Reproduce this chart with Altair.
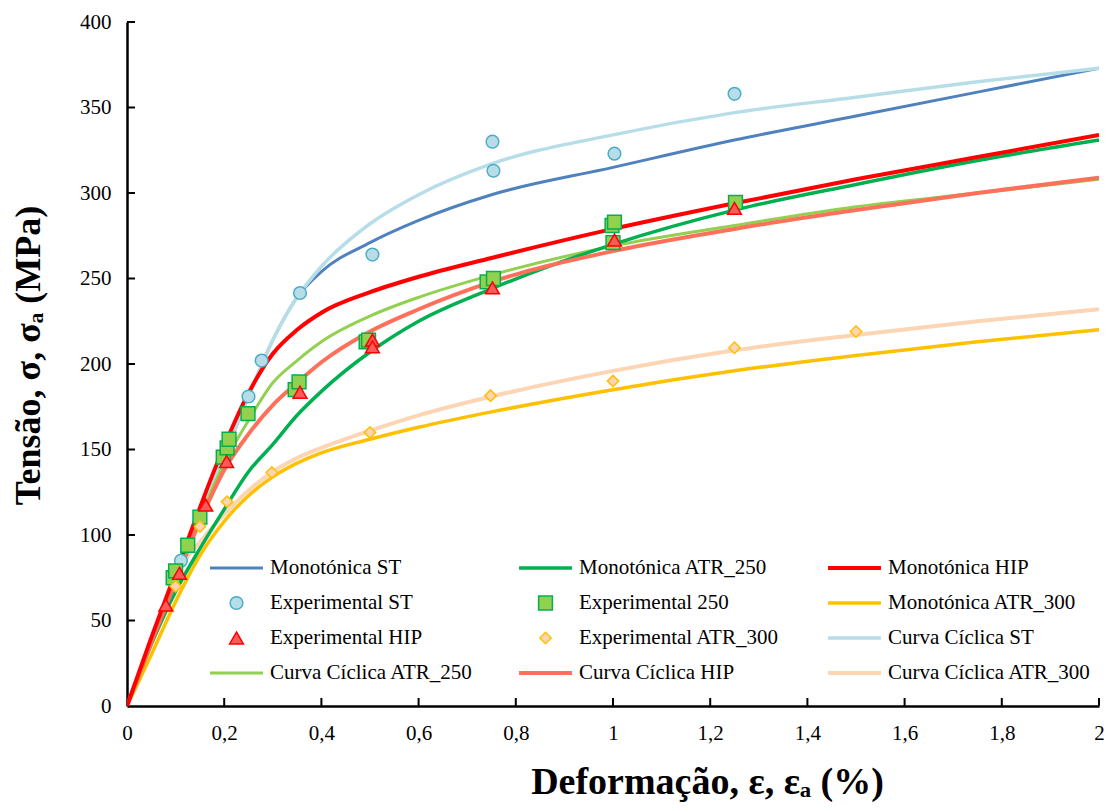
import altair as alt
import pandas as pd

# ---------------- data ----------------
X_GRID = [0, 0.05, 0.1, 0.15, 0.2, 0.25, 0.3, 0.35, 0.4, 0.5, 0.6, 0.75, 1.0, 1.25, 1.5, 1.75, 2.0]
MONO_ST = [0, 37, 75, 110, 146, 181, 214, 239, 254, 271, 284, 299, 315, 331, 345, 359, 373]
MONO_250 = [0, 36, 67, 92, 115, 137, 153, 170, 184, 207, 225, 244, 270, 290, 305, 319, 331]
MONO_HIP = [0, 40, 78, 116, 152, 183, 206, 220, 230, 242, 251, 262, 279, 294, 308, 321, 334]
MONO_300 = [0, 30, 61, 88, 108, 123, 134, 142, 148, 156, 163, 172, 185, 196, 205, 213, 220]
CYC_ST = [0, 37, 75, 110, 146, 181, 214, 239, 257, 282, 299, 317, 334, 347, 356, 365, 373]
CYC_250 = [0, 37, 74, 110, 142, 167, 189, 202, 213, 228, 239, 252, 269, 281, 292, 300, 308]
CYC_HIP = [0, 37, 73, 108, 138, 159, 176, 189, 201, 219, 232, 248, 266, 279, 290, 300, 309]
X_CYC_300 = [0.1, 0.15, 0.2, 0.25, 0.3, 0.35, 0.4, 0.5, 0.6, 0.75, 1.0, 1.25, 1.5, 1.75, 2.0]
CYC_300 = [79, 96, 112, 126, 137, 145, 151, 161, 170, 181, 196, 208, 217, 225, 232]

EXP_ST_X = [0.111, 0.25, 0.277, 0.356, 0.505, 0.752, 0.754, 1.003, 1.25]
EXP_ST_Y = [85, 181, 202, 241.5, 264, 330, 313, 323, 358]
EXP_250_X = [0.095, 0.1, 0.125, 0.15, 0.198, 0.206, 0.21, 0.249, 0.346, 0.354, 0.492, 0.497,
             0.741, 0.754, 0.998, 1.003, 1.0, 1.252]
EXP_250_Y = [75, 79, 94, 110.5, 145.5, 151, 156, 171, 185, 189.5, 213, 214,
             248, 250, 281, 283, 271, 294.5]
EXP_HIP_X = [0.08, 0.108, 0.162, 0.205, 0.356, 0.505, 0.505, 0.752, 1.003, 1.25]
EXP_HIP_Y = [59, 77.6, 117.5, 143, 183.5, 214, 210, 244.5, 272.5, 291]
EXP_300_X = [0.1, 0.15, 0.206, 0.298, 0.5, 0.748, 1.0, 1.25, 1.5]
EXP_300_Y = [70, 105, 119.5, 136.5, 160, 181.5, 190, 209.5, 219]

X_TICKS = [0.2, 0.4, 0.6, 0.8, 1.0, 1.2, 1.4, 1.6, 1.8, 2.0]
Y_TICKS = [50, 100, 150, 200, 250, 300, 350, 400]

# legend entries, listed column by column (4 rows x 3 columns)
LEGEND = ["Monotónica ST", "Experimental ST", "Experimental HIP", "Curva Cíclica ATR_250",
          "Monotónica ATR_250", "Experimental 250", "Experimental ATR_300", "Curva Cíclica HIP",
          "Monotónica HIP", "Monotónica ATR_300", "Curva Cíclica ST", "Curva Cíclica ATR_300"]
STROKES = ["#4F81BD", "#4BACC6", "#FF0000", "#92D050",
           "#00B050", "#00B050", "#FFC000", "#FF705A",
           "#FF0000", "#FFC000", "#B7DEE8", "#FCD5B4"]
FILLS = ["#FFFFFF", "#B7DEE8", "#FF5A5A", "#FFFFFF",
         "#FFFFFF", "#92D050", "#FCD5B4", "#FFFFFF",
         "#FFFFFF", "#FFFFFF", "#FFFFFF", "#FFFFFF"]
SHAPES = ["stroke", "circle", "triangle-up", "stroke",
          "stroke", "square", "diamond", "stroke",
          "stroke", "stroke", "stroke", "stroke"]
SIZES = [2800, 160, 190, 2800,
         2800, 190, 130, 2800,
         2800, 2800, 2800, 2800]
WIDTHS = [3, 1.5, 1.5, 3,
          3.5, 1.5, 1.5, 4,
          4, 3.5, 3.5, 4]

# ---------------- tables ----------------
line_rows = []
for name, xs, ys in [
    ("Monotónica ST", X_GRID, MONO_ST),
    ("Curva Cíclica ST", X_GRID, CYC_ST),
    ("Monotónica ATR_300", X_GRID, MONO_300),
    ("Curva Cíclica ATR_300", X_CYC_300, CYC_300),
    ("Curva Cíclica ATR_250", X_GRID, CYC_250),
    ("Monotónica ATR_250", X_GRID, MONO_250),
    ("Curva Cíclica HIP", X_GRID, CYC_HIP),
    ("Monotónica HIP", X_GRID, MONO_HIP),
]:
    for x, y in zip(xs, ys):
        line_rows.append({"series": name, "x": x, "y": y})
lines_df = pd.DataFrame(line_rows)

pt_rows = []
for name, xs, ys in [
    ("Experimental ST", EXP_ST_X, EXP_ST_Y),
    ("Experimental 250", EXP_250_X, EXP_250_Y),
    ("Experimental HIP", EXP_HIP_X, EXP_HIP_Y),
    ("Experimental ATR_300", EXP_300_X, EXP_300_Y),
]:
    for x, y in zip(xs, ys):
        pt_rows.append({"series": name, "x": x, "y": y})
pts_df = pd.DataFrame(pt_rows)

FONT = "Liberation Serif"

leg = alt.Legend(
    title=None, orient="none", legendX=81, legendY=535, columns=3,
    labelFont=FONT, labelFontSize=21, labelColor="black", labelLimit=400,
    clipHeight=22, rowPadding=13, columnPadding=44, gridAlign="all",
    symbolOffset=0, labelOffset=5, padding=0,
)

xs = alt.Scale(domain=[0, 2], nice=False, zero=False)
ys = alt.Scale(domain=[0, 400], nice=False)

stroke_enc = alt.Stroke("series:N", scale=alt.Scale(domain=LEGEND, range=STROKES), legend=leg)
sw_enc = alt.StrokeWidth("series:N", scale=alt.Scale(type="ordinal", domain=LEGEND, range=WIDTHS), legend=leg)

x_axis = alt.Axis(
    values=[0, 0.2, 0.4, 0.6, 0.8, 1.0, 1.2, 1.4, 1.6, 1.8, 2.0],
    labelExpr="replace(format(datum.value, '.1~f'), '.', ',')",
    title="Deformação, ε, εₐ   (%)", titleFont=FONT, titleFontSize=38, titleFontWeight="bold",
    titleColor="black", titleX=580, titleY=57, titleAlign="center", titleBaseline="top",
    labelFont=FONT, labelFontSize=21, labelColor="black", labelPadding=16,
    ticks=False, tickSize=0, grid=False, domainColor="black", domainWidth=2.5,
    labelFlush=False, labelOverlap=False,
)
y_axis = alt.Axis(
    values=[0, 50, 100, 150, 200, 250, 300, 350, 400],
    title="Tensão, σ, σₐ  (MPa)", titleFont=FONT, titleFontSize=36, titleFontWeight="bold",
    titleColor="black", titleX=-80, titleY=333, titleAlign="center", titleAngle=-90,
    titleBaseline="bottom",
    labelFont=FONT, labelFontSize=21, labelColor="black", labelPadding=16,
    ticks=False, tickSize=0, grid=False, domainColor="black", domainWidth=2.5,
    labelFlush=False, labelOverlap=False,
)

lines = alt.Chart(lines_df).mark_line(interpolate="monotone", clip=True).encode(
    x=alt.X("x:Q", scale=xs, axis=x_axis),
    y=alt.Y("y:Q", scale=ys, axis=y_axis),
    stroke=stroke_enc,
    strokeWidth=sw_enc,
    detail="series:N",
)

points = alt.Chart(pts_df).mark_point(filled=True, opacity=1).encode(
    x=alt.X("x:Q", scale=xs),
    y=alt.Y("y:Q", scale=ys),
    stroke=stroke_enc,
    strokeWidth=sw_enc,
    fill=alt.Fill("series:N", scale=alt.Scale(domain=LEGEND, range=FILLS), legend=leg),
    shape=alt.Shape("series:N", scale=alt.Scale(domain=LEGEND, range=SHAPES), legend=leg),
    size=alt.Size("series:N", scale=alt.Scale(type="ordinal", domain=LEGEND, range=SIZES), legend=leg),
    order=alt.Order("idx:Q"),
).transform_window(idx="row_number()")

xt = alt.Chart(pd.DataFrame({"t": X_TICKS})).mark_rule(color="black", strokeWidth=2).encode(
    x=alt.X("t:Q", scale=xs), y=alt.value(684), y2=alt.value(676)
)
yt = alt.Chart(pd.DataFrame({"t": Y_TICKS})).mark_rule(color="black", strokeWidth=2).encode(
    y=alt.Y("t:Q", scale=ys), x=alt.value(0), x2=alt.value(8)
)

chart = alt.layer(lines, points, xt, yt).properties(
    width=972, height=684,
    autosize=alt.AutoSizeParams(type="none"),
    padding={"left": 127, "top": 22, "right": 10, "bottom": 106},
    background="white",
).configure_view(stroke=None)

chart.save("out.html", embed_options={"renderer": "svg", "actions": False})
